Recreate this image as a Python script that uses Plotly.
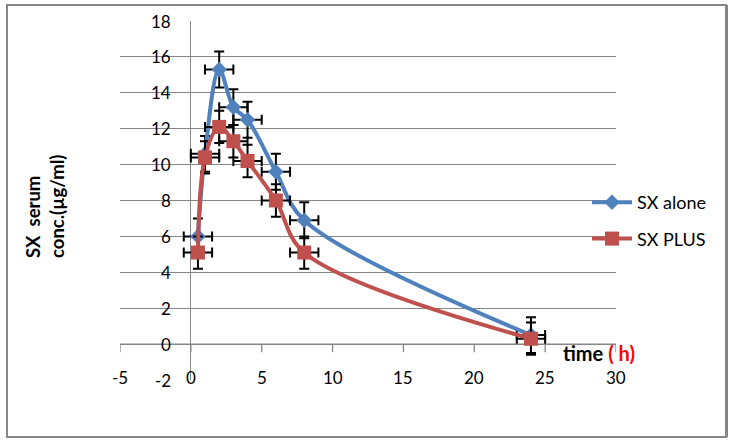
import plotly.graph_objects as go

# Data
time_h = [0.5, 1, 2, 3, 4, 6, 8, 24]
sx_alone = [6.0, 10.6, 15.3, 13.2, 12.5, 9.6, 6.9, 0.5]
sx_plus = [5.1, 10.4, 12.1, 11.3, 10.2, 8.0, 5.1, 0.3]
err_alone_y = 1.0
err_plus_y = 0.9
err_x = 1.0
x_ticks = [-5, 0, 5, 10, 15, 20, 25, 30]
y_ticks = [-2, 0, 2, 4, 6, 8, 10, 12, 14, 16, 18]

FONT = "Lato"
BLUE = "#4F81BD"
RED = "#C0504D"
GRID = "#868686"

fig = go.Figure()

fig.add_trace(go.Scatter(
    x=time_h, y=sx_alone, name="SX alone", mode="lines+markers",
    line=dict(color=BLUE, width=4, shape="spline", smoothing=1),
    marker=dict(symbol="diamond", size=12, color=BLUE),
    error_y=dict(type="constant", value=err_alone_y, color="black", thickness=2, width=5),
    error_x=dict(type="constant", value=err_x, color="black", thickness=2, width=5),
    legendgroup="a",
))
fig.add_trace(go.Scatter(
    x=time_h, y=sx_plus, name="SX PLUS", mode="lines+markers",
    line=dict(color=RED, width=4, shape="spline", smoothing=1),
    marker=dict(symbol="square", size=14, color=RED),
    error_y=dict(type="constant", value=err_plus_y, color="black", thickness=2, width=5),
    error_x=dict(type="constant", value=err_x, color="black", thickness=2, width=5),
    legendgroup="b",
))

shapes = []
annotations = []

# x-axis line at y=0 with downward ticks
shapes.append(dict(type="line", xref="x", yref="y", x0=x_ticks[0], x1=x_ticks[-1], y0=0, y1=0,
                   line=dict(color=GRID, width=1.3), layer="below"))
for t in x_ticks:
    shapes.append(dict(type="line", xref="x", yref="y", x0=t, x1=t, y0=0, y1=-0.45,
                       line=dict(color=GRID, width=1.3), layer="below"))
    annotations.append(dict(xref="x", yref="y", x=t, y=-2, text=str(t), showarrow=False,
                            xanchor="center", yanchor="middle", yshift=3,
                            font=dict(family=FONT, size=17, color="black")))

for t in y_ticks:
    annotations.append(dict(xref="paper", yref="y", x=0.107, y=t, text=str(t), showarrow=False,
                            xanchor="right", yanchor="middle",
                            font=dict(family=FONT, size=17, color="black")))

# outer border
shapes.append(dict(type="rect", xref="paper", yref="paper", x0=-0.2278, x1=1.2218, y0=-0.1588, y1=1.0446,
                   line=dict(color=GRID, width=2), layer="below"))
shapes.append(dict(type="line", xref="paper", yref="paper", x0=1.2228, x1=1.2228, y0=-0.1588, y1=1.0446,
                   line=dict(color=GRID, width=3), layer="below"))

# axis titles
annotations.append(dict(xref="paper", yref="paper", x=(45 - 120) / 496, y=(380 - 207) / 359,
                        text="<b>SX\u00a0 serum<br>conc.(µg/ml)</b>", textangle=-90, showarrow=False,
                        align="left", xanchor="center", yanchor="middle",
                        font=dict(family=FONT, size=18.5, color="black")))
annotations.append(dict(xref="paper", yref="paper", x=(561 - 120) / 496, y=(380 - 353) / 359,
                        text="<b>time <span style='color:#FF0000'>( h)</span></b>", showarrow=False,
                        xanchor="left", yanchor="middle",
                        font=dict(family=FONT, size=20, color="black")))

fig.update_layout(
    width=733, height=442,
    margin=dict(l=120, r=117, t=21, b=62),
    paper_bgcolor="white", plot_bgcolor="white",
    showlegend=True,
    legend=dict(x=(587 - 120) / 496, y=(380 - 184) / 359, xanchor="left", yanchor="top",
                font=dict(family=FONT, size=18, color="black"), tracegroupgap=10,
                itemwidth=40, bgcolor="rgba(0,0,0,0)"),
    xaxis=dict(range=[-5, 30], showgrid=False, zeroline=True, zerolinecolor=GRID, zerolinewidth=1.3,
               showticklabels=False, ticks="", showline=False, fixedrange=True),
    yaxis=dict(range=[-2, 18], dtick=2, tick0=0, showgrid=True, gridcolor=GRID, gridwidth=1.3,
               zeroline=False, showticklabels=False, ticks="", showline=False, fixedrange=True),
    shapes=shapes, annotations=annotations,
    font=dict(family=FONT),
)

fig.write_html("out.html", config={"displayModeBar": False},
               post_script="document.body.style.margin='0';document.body.style.padding='0';")
